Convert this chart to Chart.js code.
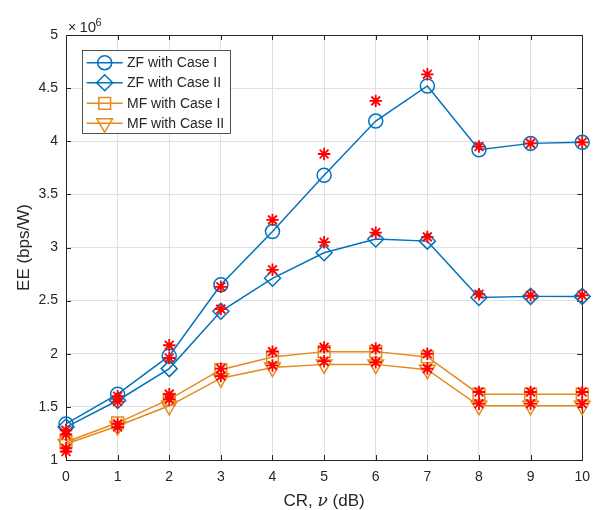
<!DOCTYPE html>
<html>
<head>
<meta charset="utf-8">
<script src="https://cdn.jsdelivr.net/npm/chart.js@4"></script>
<style>
  html, body { margin: 0; padding: 0; background: #ffffff; }
  #c { display: block; }
</style>
</head>
<body>
<canvas id="c" width="599" height="510"></canvas>
<script>
// Compression ratio (dB)
const cr = [0, 1, 2, 3, 4, 5, 6, 7, 8, 9, 10];

// Energy efficiency, in units of 10^6 bps/W (analytical curves)
const zfCase1 = [1.34, 1.62, 1.98, 2.65, 3.15, 3.68, 4.19, 4.52, 3.92, 3.98, 3.99];
const zfCase2 = [1.31, 1.56, 1.86, 2.40, 2.71, 2.95, 3.08, 3.06, 2.53, 2.54, 2.54];
const mfCase1 = [1.17, 1.35, 1.57, 1.85, 1.97, 2.02, 2.02, 1.97, 1.62, 1.62, 1.62];
const mfCase2 = [1.15, 1.32, 1.51, 1.77, 1.87, 1.90, 1.90, 1.85, 1.51, 1.51, 1.51];

// Simulated points (red asterisks)
const zfCase1Sim = [1.28, 1.60, 2.08, 2.63, 3.26, 3.88, 4.38, 4.63, 3.95, 3.98, 3.99];
const zfCase2Sim = [1.24, 1.55, 1.96, 2.42, 2.79, 3.05, 3.14, 3.10, 2.56, 2.55, 2.55];
const mfCase1Sim = [1.11, 1.34, 1.62, 1.86, 2.02, 2.06, 2.05, 2.00, 1.64, 1.64, 1.64];
const mfCase2Sim = [1.08, 1.31, 1.57, 1.79, 1.89, 1.93, 1.92, 1.86, 1.53, 1.53, 1.53];

// Tick positions and labels
const xTicks = [0, 1, 2, 3, 4, 5, 6, 7, 8, 9, 10];
const yTicks = [1, 1.5, 2, 2.5, 3, 3.5, 4, 4.5, 5];
const yTickLabels = ['1', '1.5', '2', '2.5', '3', '3.5', '4', '4.5', '5'];

const seriesNames = ['ZF with Case I', 'ZF with Case II', 'MF with Case I', 'MF with Case II'];

const BLUE = '#0072BD';
const ORANGE = '#E68A1A';
const RED = '#FF0000';
const AXIS = '#262626';
const FONT = "'Liberation Sans', Arial, Helvetica, sans-serif";

const toPoints = ys => cr.map((x, i) => ({ x, y: ys[i] }));

function curve(label, ys, color, style, radius, rotation) {
  return {
    label,
    data: toPoints(ys),
    borderColor: color,
    backgroundColor: 'rgba(0,0,0,0)',
    borderWidth: 1.5,
    pointStyle: style,
    pointRadius: radius,
    pointRotation: rotation || 0,
    pointBorderColor: color,
    pointBackgroundColor: 'rgba(0,0,0,0)',
    pointBorderWidth: 1.5,
    tension: 0,
    clip: false,
    order: 2
  };
}

function simulated(label, ys) {
  return {
    label,
    data: toPoints(ys),
    showLine: false,
    borderColor: RED,
    backgroundColor: RED,
    pointStyle: 'star',
    pointRadius: 6.2,
    pointBorderColor: RED,
    pointBorderWidth: 1.8,
    clip: false,
    order: 1
  };
}

const datasets = [
  curve(seriesNames[0], zfCase1, BLUE, 'circle', 7),
  curve(seriesNames[1], zfCase2, BLUE, 'rectRot', 8),
  curve(seriesNames[2], mfCase1, ORANGE, 'rect', 8.3),
  curve(seriesNames[3], mfCase2, ORANGE, 'triangle', 9, 180),
  simulated('ZF with Case I (sim)', zfCase1Sim),
  simulated('ZF with Case II (sim)', zfCase2Sim),
  simulated('MF with Case I (sim)', mfCase1Sim),
  simulated('MF with Case II (sim)', mfCase2Sim)
];

// Box, inward ticks, axis labels, exponent and legend in MATLAB style
const matlabAxes = {
  id: 'matlabAxes',
  beforeDatasetsDraw(chart) {
    const { ctx, chartArea: a, scales: { x, y } } = chart;
    const tl = 5;
    ctx.save();
    ctx.strokeStyle = AXIS;
    ctx.lineWidth = 1;
    ctx.beginPath();
    xTicks.forEach(v => {
      const px = Math.round(x.getPixelForValue(v)) + 0.5;
      ctx.moveTo(px, a.bottom); ctx.lineTo(px, a.bottom - tl);
      ctx.moveTo(px, a.top); ctx.lineTo(px, a.top + tl);
    });
    yTicks.forEach(v => {
      const py = Math.round(y.getPixelForValue(v)) + 0.5;
      ctx.moveTo(a.left, py); ctx.lineTo(a.left + tl, py);
      ctx.moveTo(a.right, py); ctx.lineTo(a.right - tl, py);
    });
    ctx.stroke();
    ctx.strokeRect(Math.round(a.left) + 0.5, Math.round(a.top) + 0.5,
                   Math.round(a.width), Math.round(a.height));
    ctx.restore();
  },
  afterDraw(chart) {
    const { ctx, chartArea: a } = chart;
    ctx.save();
    ctx.fillStyle = AXIS;

    // x-axis label with italic nu
    const p1 = 'CR, ', p3 = ' (dB)';
    const nuFont = "italic 17px 'DejaVu Serif', 'Liberation Serif', serif";
    ctx.font = '17px ' + FONT;
    const w1 = ctx.measureText(p1).width, w3 = ctx.measureText(p3).width;
    ctx.font = nuFont;
    const w2 = ctx.measureText('ν').width;
    const xs = (a.left + a.right) / 2 - (w1 + w2 + w3) / 2;
    const by = 506;
    ctx.textBaseline = 'alphabetic';
    ctx.textAlign = 'left';
    ctx.font = '17px ' + FONT;
    ctx.fillText(p1, xs, by);
    ctx.font = nuFont;
    ctx.fillText('ν', xs + w1, by);
    ctx.font = '17px ' + FONT;
    ctx.fillText(p3, xs + w1 + w2, by);

    // y-axis label
    ctx.save();
    ctx.translate(29, (a.top + a.bottom) / 2);
    ctx.rotate(-Math.PI / 2);
    ctx.textAlign = 'center';
    ctx.font = '17px ' + FONT;
    ctx.fillText('EE (bps/W)', 0, 0);
    ctx.restore();

    // exponent label
    ctx.font = '14px ' + FONT;
    ctx.fillText('×', 68, 31.5);
    ctx.font = '15px ' + FONT;
    ctx.fillText('10', 79.5, 31.5);
    ctx.font = '11px ' + FONT;
    ctx.fillText('6', 95.5, 26);

    // legend
    const lx = 82.5, ly = 50.5, lw = 148, lh = 83;
    ctx.fillStyle = '#ffffff';
    ctx.fillRect(lx, ly, lw, lh);
    ctx.strokeStyle = AXIS;
    ctx.lineWidth = 0.8;
    ctx.strokeRect(lx, ly, lw, lh);
    const rowsY = [62.7, 82.7, 103.3, 123.3];
    for (let i = 0; i < 4; i++) {
      const ds = chart.data.datasets[i];
      const yy = rowsY[i];
      ctx.strokeStyle = ds.borderColor;
      ctx.lineWidth = ds.borderWidth;
      ctx.beginPath();
      ctx.moveTo(86.7, yy); ctx.lineTo(122.7, yy);
      ctx.stroke();
      ctx.fillStyle = 'rgba(0,0,0,0)';
      Chart.helpers.drawPoint(ctx, {
        pointStyle: ds.pointStyle,
        radius: ds.pointRadius,
        rotation: ds.pointRotation,
        borderWidth: ds.pointBorderWidth
      }, 104.7, yy);
      ctx.fillStyle = AXIS;
      ctx.font = '14px ' + FONT;
      ctx.textBaseline = 'middle';
      ctx.textAlign = 'left';
      ctx.fillText(ds.label, 127, yy + 0.5);
    }
    ctx.restore();
  }
};

new Chart(document.getElementById('c'), {
  type: 'line',
  data: { datasets },
  options: {
    responsive: false,
    animation: false,
    events: [],
    layout: { padding: { left: 0, right: 16, top: 35, bottom: 0 } },
    plugins: { legend: { display: false }, tooltip: { enabled: false } },
    scales: {
      x: {
        type: 'linear',
        min: 0, max: 10,
        afterBuildTicks: s => { s.ticks = xTicks.map(v => ({ value: v })); },
        afterFit: s => { s.height = 50; },
        ticks: {
          callback: v => String(v),
          color: AXIS,
          font: { family: FONT, size: 14 },
          padding: 9,
          maxRotation: 0,
          autoSkip: false
        },
        grid: { color: '#e0e0e0', lineWidth: 1, drawTicks: false },
        border: { display: false }
      },
      y: {
        type: 'linear',
        min: 1, max: 5,
        afterBuildTicks: s => { s.ticks = yTicks.map(v => ({ value: v })); },
        afterFit: s => { s.width = 66; },
        ticks: {
          callback: (v, i) => yTickLabels[i],
          color: AXIS,
          font: { family: FONT, size: 14 },
          padding: 8,
          autoSkip: false
        },
        grid: { color: '#e0e0e0', lineWidth: 1, drawTicks: false },
        border: { display: false }
      }
    }
  },
  plugins: [matlabAxes]
});
</script>
</body>
</html>
